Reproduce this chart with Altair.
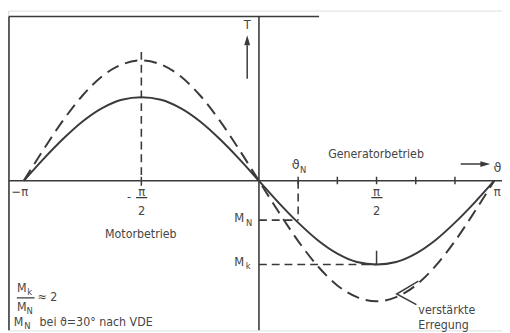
import altair as alt
import pandas as pd

# ---------------- data ----------------
# load angle in degrees, torque in units of the normal pull-out torque M_k
theta_deg = [-180, -165, -150, -135, -120, -105, -90, -75, -60, -45, -30, -15, 0,
             15, 30, 45, 60, 75, 90, 105, 120, 135, 150, 165, 180]
T_normal = [0, 0.26, 0.5, 0.71, 0.87, 0.97, 1.0, 0.97, 0.87, 0.71, 0.5, 0.26, 0,
            -0.26, -0.5, -0.71, -0.87, -0.97, -1.0, -0.97, -0.87, -0.71, -0.5, -0.26, 0]
T_strong = [0, 0.37, 0.72, 1.02, 1.25, 1.39, 1.44, 1.39, 1.25, 1.02, 0.72, 0.37, 0,
            -0.37, -0.72, -1.02, -1.25, -1.39, -1.44, -1.39, -1.25, -1.02, -0.72, -0.37, 0]

tick_deg = [30, 60, 90, 120, 150]
theta_N = 30
M_N = -0.47
M_k = -1.0

# ---------------- scales ----------------
XMIN, XMAX = -192.05, 186.0
YMIN, YMAX = -1.788, 2.035
W, H = 502, 325

xs = alt.Scale(domain=[XMIN, XMAX], nice=False, zero=False)
ys = alt.Scale(domain=[YMIN, YMAX], nice=False, zero=False)
X = lambda f="x": alt.X(f"{f}:Q", scale=xs, axis=None)
Y = lambda f="y": alt.Y(f"{f}:Q", scale=ys, axis=None)

INK = "#3a3a3a"
TXT = "#454545"
FONT = "DejaVu Sans Condensed, Liberation Sans Narrow, DejaVu Sans"
GREEK = "DejaVu Sans"

curves = pd.DataFrame({"x": theta_deg, "n": T_normal, "s": T_strong})

solid = alt.Chart(curves).mark_line(color=INK, strokeWidth=2.0, interpolate="monotone").encode(
    x=X(), y=Y("n"))
dashed = alt.Chart(curves).mark_line(color=INK, strokeWidth=2.0, interpolate="monotone",
                                     strokeDash=[13, 7]).encode(x=X(), y=Y("s"))

def segs(rows, **kw):
    df = pd.DataFrame(rows, columns=["x", "y", "x2", "y2"])
    return alt.Chart(df).mark_rule(color=INK, clip=True, **kw).encode(
        x=X(), y=Y(), x2="x2:Q", y2="y2:Q")

frame = segs([
    [-191.3, 1.965, 46.0, 1.965],     # top border
    [-191.3, 1.965, -191.3, YMIN],    # left border
    [-191.3, 0, XMAX, 0],             # theta axis
    [0, 1.965, 0, YMIN],              # T axis
], strokeWidth=1.6)

ticks = segs([[d, 0.05, d, -0.04] for d in tick_deg] + [[-90, 0.05, -90, -0.06],
             [90, M_k, 90, -0.835]], strokeWidth=1.5)

guides = segs([
    [-90, 1.54, -90, 0.05],
    [theta_N, 0, theta_N, M_N],
    [0, M_N, theta_N, M_N],
    [0, M_k, 90, M_k],
], strokeWidth=1.6, strokeDash=[8, 5])

arrows = segs([
    [-9.0, 1.22, -9.0, 1.62],
    [154.4, 0.2, 172.0, 0.2],
], strokeWidth=1.5)

heads = pd.DataFrame({"x": [-9.0, 173.2], "y": [1.68, 0.2], "a": [0, 90]})
arrowheads = alt.Chart(heads).mark_point(
    shape="M0,-1L0.6,1L-0.6,1Z", filled=True, color=INK, size=100, opacity=1).encode(
    x=X(), y=Y(), angle=alt.Angle("a:Q", scale=None))

leader = alt.Chart(pd.DataFrame({"x": [122, 105.4, 120.5], "y": [-1.2, -1.353, -1.48],
                                 "o": [0, 1, 2]})).mark_line(color=INK, strokeWidth=1.5).encode(
    x=X(), y=Y(), order="o:Q")

# fraction bars
bars = segs([
    [-94.0, -0.2, -85.5, -0.2],
    [86.0, -0.2, 94.5, -0.2],
    [-185.3, -1.4, -171.7, -1.4],
], strokeWidth=1.3)

def texts(rows, size, align="center", font=FONT, **kw):
    df = pd.DataFrame(rows, columns=["x", "y", "t"])
    return alt.Chart(df).mark_text(font=font, fontSize=size, color=TXT, align=align,
                                   baseline="middle", **kw).encode(x=X(), y=Y(), text="t:N")

big = texts([
    [-9.0, 1.86, "T"],
    [-183.0, -0.14, "−π"],
    [-99.4, -0.19, "-"],
    [-89.8, -0.13, "π"],
    [-89.8, -0.365, "2"],
    [90.0, -0.13, "π"],
    [90.0, -0.365, "2"],
    [182.3, -0.13, "π"],
    [-15.1, -0.45, "M"],
    [-15.1, -0.976, "M"],
], 13)

greek = texts([
    [182.6, 0.15, "ϑ"],
    [28.2, 0.19, "ϑ"],
], 13, font=GREEK)

labels = texts([
    [-90.4, -0.635, "Motorbetrieb"],
    [89.6, 0.318, "Generatorbetrieb"],
], 12.5)

subs = texts([
    [33.8, 0.13, "N"],
    [-7.5, -0.505, "N"],
    [-8.3, -1.02, "k"],
    [-175.5, -1.33, "k"],
    [-175.5, -1.553, "N"],
    [-177.2, -1.74, "N"],
], 9.5)

left = texts([
    [-181.5, -1.28, "M"],
    [-181.5, -1.506, "M"],
    [-184.0, -1.69, "M"],
], 12.5)

lefttext = texts([
    [-169.5, -1.39, "≈ 2"],
    [-167.9, -1.69, "bei  ϑ=30°  nach  VDE"],
    [122.0, -1.54, "verstärkte"],
    [122.0, -1.72, "Erregung"],
], 12.5, align="left")

chart = alt.layer(frame, ticks, guides, dashed, solid, arrows, arrowheads, leader, bars,
                  big, greek, labels, subs, left, lefttext).properties(
    width=W, height=H, padding=0,
    autosize=alt.AutoSizeParams(type="none"),
).configure_view(stroke=None).configure(background="white")

chart.save("out.html", embed_options={"renderer": "svg", "actions": False})
